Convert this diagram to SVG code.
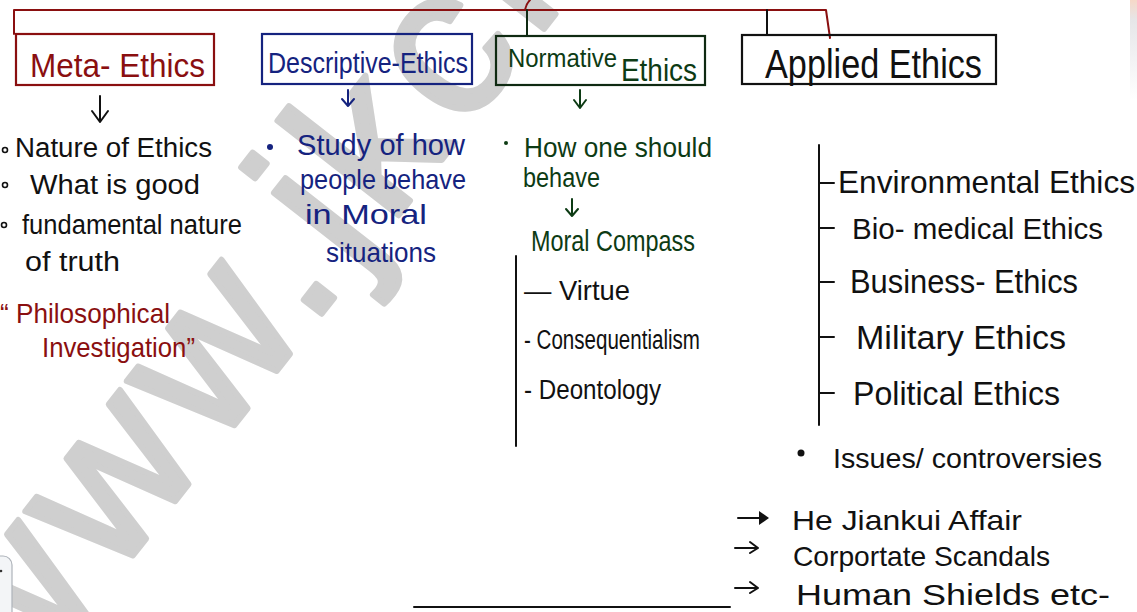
<svg xmlns="http://www.w3.org/2000/svg" width="1137" height="612" viewBox="0 0 1137 612">
  <defs>
    <style>
      .hand { font-family: "Liberation Sans", "DejaVu Sans", sans-serif; }
      .red { fill: #8a0f10; }
      .blue { fill: #15237f; }
      .green { fill: #0d3b14; }
      .ink { fill: #111111; }
      .box { fill: none; stroke-width: 2.2; }
      .line { fill: none; stroke-width: 2; stroke-linecap: round; stroke-linejoin: round; }
      .mark { font-family: "Liberation Sans", sans-serif; font-weight: normal; fill: #cfcfcf; stroke: #cfcfcf; stroke-width: 6; stroke-linejoin: round; }
    </style>
    <linearGradient id="edge" x1="0" y1="0" x2="0" y2="1">
      <stop offset="0" stop-color="#f6d8c8"/>
      <stop offset="0.2" stop-color="#e6e6e8"/>
      <stop offset="1" stop-color="#ffffff"/>
    </linearGradient>
  </defs>

  <rect width="1137" height="612" fill="#ffffff"/>

  <!-- site watermark -->
  <g id="watermark">
    <text class="mark" font-size="212" letter-spacing="12" transform="translate(12,710) rotate(-52)">www.jkchrome.com</text>
  </g>

  <!-- edge fragments -->
  <rect x="1130" y="0" width="7" height="100" fill="url(#edge)"/>
  <rect x="-12" y="556" width="24" height="70" rx="9" fill="#f3f5f7" stroke="#aeb3ba" stroke-width="1.2"/>
  <circle cx="1" cy="571" r="1.3" fill="#333"/>

  <!-- connectors -->
  <g id="connectors">
    <path class="line" stroke="#8a0f10" d="M14,34 V10 H826 L830,38"/>
    <path class="line" stroke="#8a0f10" d="M525,10 Q526,4 530,0"/>
    <path class="line" stroke="#0f2a12" d="M527,10 V36"/>
    <path class="line" stroke="#111" d="M767,10 V35"/>
    <!-- down arrows -->
    <path class="line" stroke="#111" d="M100,96 V122 M92,111 L100,122 L108,111"/>
    <path class="line" stroke="#15237f" d="M348,90 V106 M342,99 L348,106 L354,99"/>
    <path class="line" stroke="#0d3b14" d="M580,90 V108 M574,100 L580,108 L586,100"/>
    <path class="line" stroke="#0d3b14" d="M572,199 V216 M566,209 L572,216 L578,209"/>
    <!-- brackets -->
    <path class="line" stroke="#111" d="M516,256 V446"/>
    <path class="line" stroke="#111" d="M819,145 V425 M819,183 H834 M819,228 H834 M819,282 H834 M819,337 H834 M819,393 H834"/>
    <!-- issue arrows -->
    <path class="line" stroke="#111" stroke-width="2.6" d="M738,518 H764"/>
    <path fill="#111" d="M759,511 L769,518 L759,525 Z"/>
    <path class="line" stroke="#111" d="M735,548 H758 M750,542 L758,548 L750,553"/>
    <path class="line" stroke="#111" d="M735,588 H758 M750,582 L758,588 L750,593"/>
    <path class="line" stroke="#111" stroke-width="1.5" d="M414,607 H730"/>
  </g>

  <!-- Meta-Ethics -->
  <g id="meta-ethics">
    <rect class="box" stroke="#8a0f10" x="16" y="34" width="198" height="51"/>
    <text class="hand red" x="30" y="77" font-size="33" textLength="175" lengthAdjust="spacingAndGlyphs">Meta- Ethics</text>
    <circle cx="5" cy="150" r="2.5" fill="none" stroke="#111" stroke-width="1.6"/>
    <text class="hand ink" x="15" y="157" font-size="27" textLength="197" lengthAdjust="spacingAndGlyphs">Nature of Ethics</text>
    <circle cx="5" cy="185" r="2.5" fill="none" stroke="#111" stroke-width="1.6"/>
    <text class="hand ink" x="30" y="194" font-size="27" textLength="170" lengthAdjust="spacingAndGlyphs">What is good</text>
    <circle cx="4" cy="225" r="2.5" fill="none" stroke="#111" stroke-width="1.6"/>
    <text class="hand ink" x="22" y="234" font-size="27" textLength="220" lengthAdjust="spacingAndGlyphs">fundamental nature</text>
    <text class="hand ink" x="25" y="271" font-size="27" textLength="95" lengthAdjust="spacingAndGlyphs">of truth</text>
    <text class="hand red" x="0" y="323" font-size="28" textLength="170" lengthAdjust="spacingAndGlyphs">“ Philosophical</text>
    <text class="hand red" x="42" y="357" font-size="28" textLength="153" lengthAdjust="spacingAndGlyphs">Investigation”</text>
  </g>

  <!-- Descriptive-Ethics -->
  <g id="descriptive-ethics">
    <rect class="box" stroke="#15237f" x="262" y="34" width="210" height="50"/>
    <text class="hand blue" x="268" y="73" font-size="29" textLength="200" lengthAdjust="spacingAndGlyphs">Descriptive-Ethics</text>
    <circle cx="270" cy="147" r="3" fill="#15237f"/>
    <text class="hand blue" x="297" y="155" font-size="30" textLength="168" lengthAdjust="spacingAndGlyphs">Study of how</text>
    <text class="hand blue" x="300" y="189" font-size="28" textLength="166" lengthAdjust="spacingAndGlyphs">people behave</text>
    <text class="hand blue" x="305" y="224" font-size="28" textLength="122" lengthAdjust="spacingAndGlyphs">in Moral</text>
    <text class="hand blue" x="326" y="262" font-size="28" textLength="110" lengthAdjust="spacingAndGlyphs">situations</text>
  </g>

  <!-- Normative Ethics -->
  <g id="normative-ethics">
    <rect class="box" stroke="#0f2a12" x="496" y="36" width="209" height="49"/>
    <text class="hand green" x="508" y="67" font-size="26" textLength="109" lengthAdjust="spacingAndGlyphs">Normative</text>
    <text class="hand green" x="621" y="81" font-size="31" textLength="76" lengthAdjust="spacingAndGlyphs">Ethics</text>
    <circle cx="506" cy="143" r="2" fill="#0d3b14"/>
    <text class="hand green" x="524" y="157" font-size="27" textLength="188" lengthAdjust="spacingAndGlyphs">How one should</text>
    <text class="hand green" x="523" y="187" font-size="27" textLength="77" lengthAdjust="spacingAndGlyphs">behave</text>
    <text class="hand green" x="531" y="251" font-size="29" textLength="164" lengthAdjust="spacingAndGlyphs">Moral Compass</text>
    <text class="hand ink" x="524" y="300" font-size="28" textLength="106" lengthAdjust="spacingAndGlyphs">— Virtue</text>
    <text class="hand ink" x="524" y="349" font-size="27" textLength="176" lengthAdjust="spacingAndGlyphs">- Consequentialism</text>
    <text class="hand ink" x="524" y="399" font-size="27" textLength="137" lengthAdjust="spacingAndGlyphs">- Deontology</text>
  </g>

  <!-- Applied Ethics -->
  <g id="applied-ethics">
    <rect class="box" stroke="#111" x="742" y="35" width="254" height="49"/>
    <text class="hand ink" x="765" y="78" font-size="40" textLength="217" lengthAdjust="spacingAndGlyphs">Applied Ethics</text>
    <text class="hand ink" x="838" y="193" font-size="32" textLength="297" lengthAdjust="spacingAndGlyphs">Environmental Ethics</text>
    <text class="hand ink" x="852" y="239" font-size="30" textLength="251" lengthAdjust="spacingAndGlyphs">Bio- medical Ethics</text>
    <text class="hand ink" x="850" y="293" font-size="34" textLength="228" lengthAdjust="spacingAndGlyphs">Business- Ethics</text>
    <text class="hand ink" x="856" y="349" font-size="33" textLength="210" lengthAdjust="spacingAndGlyphs">Military Ethics</text>
    <text class="hand ink" x="853" y="405" font-size="33" textLength="207" lengthAdjust="spacingAndGlyphs">Political Ethics</text>
    <circle cx="801" cy="453" r="3.5" fill="#111"/>
    <text class="hand ink" x="833" y="468" font-size="28" textLength="269" lengthAdjust="spacingAndGlyphs">Issues/ controversies</text>
    <text class="hand ink" x="792" y="530" font-size="28" textLength="230" lengthAdjust="spacingAndGlyphs">He Jiankui Affair</text>
    <text class="hand ink" x="793" y="566" font-size="28" textLength="257" lengthAdjust="spacingAndGlyphs">Corportate Scandals</text>
    <text class="hand ink" x="796" y="605" font-size="29" textLength="314" lengthAdjust="spacingAndGlyphs">Human Shields etc-</text>
  </g>
</svg>
